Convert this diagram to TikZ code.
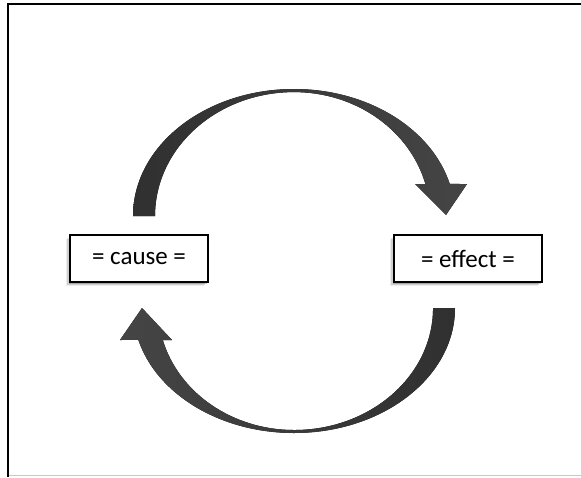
\documentclass[tikz,border=0pt]{standalone}
\usepackage{fontspec}
\setmainfont{Carlito}
\usetikzlibrary{shadows}
\definecolor{arrowdark}{HTML}{303030}
\definecolor{arrowlight}{HTML}{454545}
\definecolor{framegray}{HTML}{C8C8C8}
\begin{document}
\begin{tikzpicture}[x=1pt,y=-1pt,
  labelbox/.style={draw=black, line width=2pt, fill=white, inner sep=0pt,
    minimum height=47pt, font=\fontsize{25}{30}\selectfont,
    drop shadow={shadow xshift=-4.5pt, shadow yshift=-4pt, opacity=0.07, fill=black},
    drop shadow={shadow xshift=-3pt, shadow yshift=-2.5pt, opacity=0.12, fill=black},
    drop shadow={shadow xshift=-1.5pt, shadow yshift=-1.5pt, opacity=0.2, fill=black}},
  bigarrow/.style={draw=none}]
\useasboundingbox (0,0) rectangle (581,477);
% frame
\draw[framegray, line width=1.3pt] (9,475.5) -- (581,475.5);
\draw[black, line width=1.8pt] (8,477) -- (8,3.8) -- (581,3.8);
% boxes
\node[labelbox, minimum width=138pt] (cause) at (139,258.5) {\raisebox{-1.5pt}{= cause =}};
\node[labelbox, minimum width=148pt] (effect) at (468,258.5) {\raisebox{-1.5pt}{= effect =}};
% top arrow (cause -> effect)
\fill[bigarrow, left color=arrowdark, right color=arrowlight]
  (133,216) arc[start angle=180, end angle=345.4, x radius=161, y radius=127]
  -- (467,184) -- (446,215) -- (415,184) -- (425.4,184)
  arc[start angle=345, end angle=270, x radius=136, y radius=124]
  arc[start angle=270, end angle=180, x radius=139, y radius=124] -- cycle;
% bottom arrow (effect -> cause)
\fill[bigarrow, left color=arrowlight, right color=arrowdark]
  (455,308) arc[start angle=0, end angle=165.2, x radius=161, y radius=125]
  -- (120,340) -- (142,308) -- (172,340) -- (162.8,340)
  arc[start angle=164.8, end angle=90, x radius=136, y radius=122]
  arc[start angle=90, end angle=0, x radius=139, y radius=122] -- cycle;
\end{tikzpicture}
\end{document}
